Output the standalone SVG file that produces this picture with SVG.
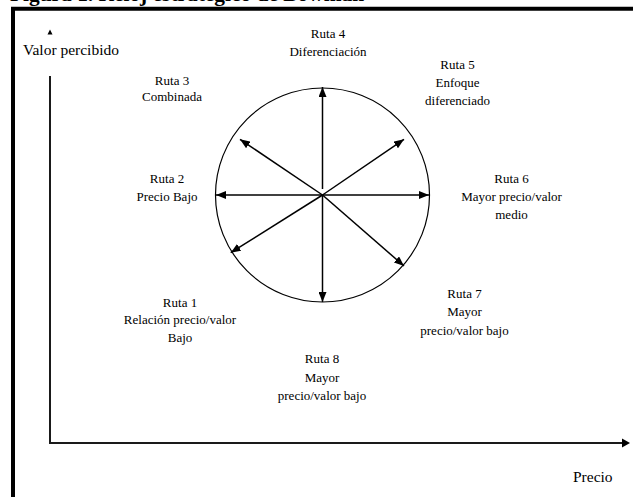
<svg xmlns="http://www.w3.org/2000/svg" width="633" height="497" viewBox="0 0 633 497">
<style>
.t{font-family:"Liberation Serif","Times New Roman",serif;font-size:13px;fill:#000;text-anchor:middle}
.ax{font-family:"Liberation Serif","Times New Roman",serif;font-size:15.5px;fill:#000}
.title{font-family:"Liberation Serif","Times New Roman",serif;font-size:21.4px;font-weight:bold;fill:#000}
.spoke{stroke:#000;stroke-width:1.5;fill:none;marker-end:url(#ah)}
.axis{stroke:#1a1a1a;stroke-width:2;fill:none}
</style>
<defs>
<marker id="ah" markerUnits="userSpaceOnUse" markerWidth="10" markerHeight="8" refX="10" refY="4" orient="auto">
<path d="M0,0 L10,4 L0,8 z" fill="#000"/>
</marker>
</defs>
<rect width="633" height="497" fill="#fff"/>
<text class="title" x="10" y="0.5">Figura 1. Reloj estratégico de Bowman</text>
<g id="frame">
<line x1="11" y1="8.7" x2="640" y2="8.7" stroke="#000" stroke-width="4"/>
<line x1="13" y1="7" x2="13" y2="510" stroke="#000" stroke-width="4"/>
</g>
<g id="axes">
<line class="axis" x1="50" y1="76" x2="50" y2="443"/>
<line class="axis" x1="49" y1="443" x2="622" y2="443"/>
<path d="M622,438.5 L630,443 L622,447.5 z" fill="#000"/>
<path d="M50,29.5 L52.5,34.5 L47.5,34.5 z" fill="#000"/>
<text class="ax" x="23" y="54.5">Valor percibido</text>
<text class="ax" x="573" y="481.5">Precio</text>
</g>
<g id="clock">
<circle cx="322.5" cy="195" r="107" fill="none" stroke="#000" stroke-width="1.2"/>
</g>
<g id="connectors">
<line class="spoke" x1="322.5" y1="189" x2="322.5" y2="87"/>
<line class="spoke" x1="322.5" y1="195" x2="322.5" y2="302"/>
<line class="spoke" x1="322.5" y1="195" x2="216" y2="195"/>
<line class="spoke" x1="322.5" y1="195" x2="429" y2="195"/>
<line class="spoke" x1="322.5" y1="195" x2="240" y2="139.3"/>
<line class="spoke" x1="322.5" y1="195" x2="404" y2="139.3"/>
<line class="spoke" x1="322.5" y1="195" x2="230.7" y2="252.7"/>
<line class="spoke" x1="322.5" y1="195" x2="404" y2="266"/>
</g>
<g id="ruta1"><text class="t" x="180" y="306.5">Ruta 1</text><text class="t" x="180" y="324">Relación precio/valor</text><text class="t" x="180" y="341.5">Bajo</text></g>
<g id="ruta2"><text class="t" x="167" y="183">Ruta 2</text><text class="t" x="167" y="201">Precio Bajo</text></g>
<g id="ruta3"><text class="t" x="172" y="85">Ruta 3</text><text class="t" x="172" y="101">Combinada</text></g>
<g id="ruta4"><text class="t" x="328" y="38">Ruta 4</text><text class="t" x="328" y="55.5">Diferenciación</text></g>
<g id="ruta5"><text class="t" x="457.5" y="69.3">Ruta 5</text><text class="t" x="457.5" y="87.3">Enfoque</text><text class="t" x="457.5" y="105.3">diferenciado</text></g>
<g id="ruta6"><text class="t" x="511.5" y="183.3">Ruta 6</text><text class="t" x="511.5" y="201">Mayor precio/valor</text><text class="t" x="511.5" y="219.3">medio</text></g>
<g id="ruta7"><text class="t" x="464.5" y="298.3">Ruta 7</text><text class="t" x="464.5" y="316">Mayor</text><text class="t" x="464.5" y="334.5">precio/valor bajo</text></g>
<g id="ruta8"><text class="t" x="322" y="363.3">Ruta 8</text><text class="t" x="322" y="381.5">Mayor</text><text class="t" x="322" y="400">precio/valor bajo</text></g>
</svg>
